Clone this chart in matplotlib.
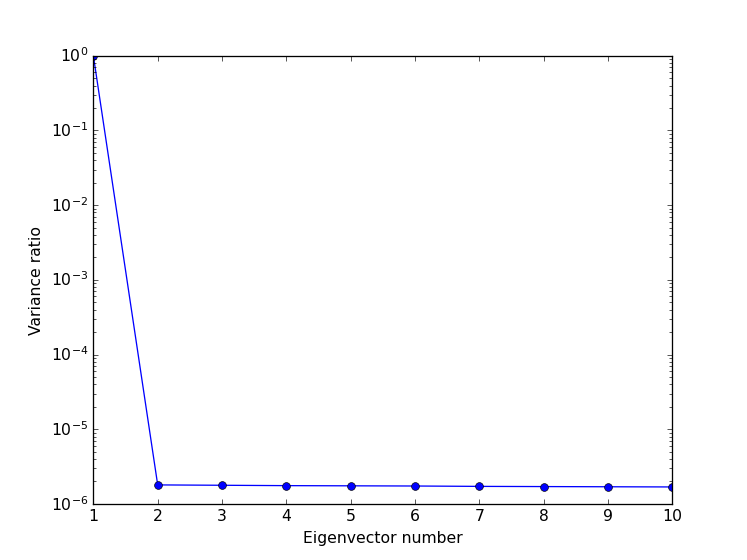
import matplotlib
matplotlib.use("Agg")
import matplotlib.pyplot as plt

plt.style.use("classic")

eigvec_num = [1, 2, 3, 4, 5, 6, 7, 8, 9, 10]
var_ratio = [0.9999, 1.80e-6, 1.78e-6, 1.76e-6, 1.75e-6, 1.74e-6, 1.72e-6, 1.71e-6, 1.70e-6, 1.69e-6]

fig = plt.figure(figsize=(8, 6), dpi=747 / 8)
ax = fig.add_subplot(111)
ax.plot(eigvec_num, var_ratio, "bo-")
ax.set_yscale("log")
ax.set_xlim(1, 10)
ax.set_ylim(1e-6, 1)
ax.set_xlabel("Eigenvector number")
ax.set_ylabel("Variance ratio")
fig.savefig("out.png", dpi=747 / 8)
